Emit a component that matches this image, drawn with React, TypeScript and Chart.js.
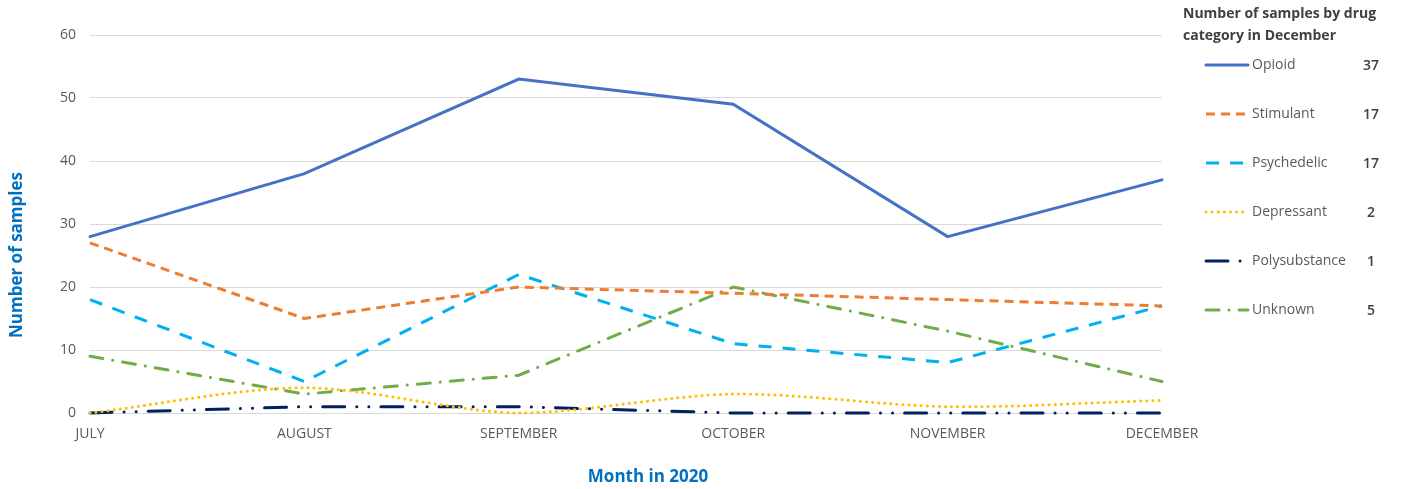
import React, { useEffect, useRef } from "react";
import { Chart, registerables } from "chart.js";
Chart.register(...registerables);

const months = ["JULY", "AUGUST", "SEPTEMBER", "OCTOBER", "NOVEMBER", "DECEMBER"];
const opioid = [28, 38, 53, 49, 28, 37];
const stimulant = [27, 15, 20, 19, 18, 17];
const psychedelic = [18, 5, 22, 11, 8, 17];
const depressant = [0, 4, 0, 3, 1, 2];
const polysubstance = [0, 1, 1, 0, 0, 0];
const unknown = [9, 3, 6, 20, 13, 5];
const seriesNames = ["Opioid", "Stimulant", "Psychedelic", "Depressant", "Polysubstance", "Unknown"];
const decemberCounts = ["37", "17", "17", "2", "1", "5"];
const yTitle = "Number of samples";
const xTitle = "Month in 2020";
const legendTitle = ["Number of samples by drug", "category in December"];

const colors = ["#4472C4", "#ED7D31", "#00B0F0", "#FFC000", "#002060", "#70AD47"];
const dashes: number[][] = [
  [],
  [9, 6],
  [13, 11],
  [0.1, 6],
  [22, 12, 0.1, 12, 0.1, 12],
  [13, 10, 0.1, 10],
];
const caps: CanvasLineCap[] = ["round", "butt", "butt", "round", "round", "round"];
const FONT = "'Open Sans', 'Noto Sans', sans-serif";

export default function App() {
  const ref = useRef<HTMLCanvasElement>(null);
  useEffect(() => {
    const values = [opioid, stimulant, psychedelic, depressant, polysubstance, unknown];
    const overlay = {
      id: "overlay",
      afterDraw(chart: any) {
        const ctx = chart.ctx as CanvasRenderingContext2D;
        const area = chart.chartArea;
        ctx.save();
        ctx.fillStyle = "#0070C0";
        ctx.font = `bold 17px ${FONT}`;
        ctx.textAlign = "center";
        ctx.textBaseline = "middle";
        ctx.fillText(xTitle, 648, 477);
        ctx.save();
        ctx.translate(17, (area.top + area.bottom) / 2 + 31);
        ctx.rotate(-Math.PI / 2);
        ctx.fillText(yTitle, 0, 0);
        ctx.restore();
        // legend
        ctx.textAlign = "left";
        ctx.fillStyle = "#404040";
        ctx.font = `bold 14px ${FONT}`;
        ctx.fillText(legendTitle[0], 1183, 14);
        ctx.fillText(legendTitle[1], 1183, 36);
        for (let i = 0; i < seriesNames.length; i++) {
          const y = 65 + i * 49;
          ctx.save();
          ctx.strokeStyle = colors[i];
          ctx.lineWidth = 3;
          ctx.lineCap = caps[i];
          ctx.setLineDash(dashes[i]);
          ctx.beginPath();
          ctx.moveTo(1206, y);
          ctx.lineTo(1248, y);
          ctx.stroke();
          ctx.restore();
          ctx.fillStyle = "#595959";
          ctx.font = `14px ${FONT}`;
          ctx.textAlign = "left";
          ctx.fillText(seriesNames[i], 1252, y);
          ctx.fillStyle = "#404040";
          ctx.font = `600 14px ${FONT}`;
          ctx.textAlign = "center";
          ctx.fillText(decemberCounts[i], 1371, y + 1);
        }
        ctx.restore();
      },
    };
    const chart = new Chart(ref.current!, {
      type: "line",
      data: {
        labels: months,
        datasets: values.map((v, i) => ({
          label: seriesNames[i],
          data: v,
          borderColor: colors[i],
          backgroundColor: colors[i],
          borderWidth: 3,
          borderDash: dashes[i],
          borderCapStyle: caps[i],
          pointRadius: 0,
          tension: i === 3 ? 0.3 : 0,
          clip: false as any,
          fill: false,
        })),
      },
      options: {
        animation: false,
        responsive: false,
        maintainAspectRatio: false,
        layout: { padding: { top: 35, right: 239, left: 0, bottom: 0 } },
        plugins: { legend: { display: false }, tooltip: { enabled: false } },
        scales: {
          x: {
            offset: false,
            grid: { display: false, drawTicks: false },
            border: { display: false },
            ticks: { color: "#595959", font: { family: FONT, size: 14 }, padding: 13, maxRotation: 0, autoSkip: false },
            afterFit: (s: any) => { s.height = 76; },
          },
          y: {
            min: 0,
            max: 60,
            ticks: { stepSize: 10, color: "#595959", font: { family: FONT, size: 14 }, padding: 14 },
            grid: { color: "#D9D9D9", lineWidth: 1, drawTicks: false },
            border: { display: false },
            afterFit: (s: any) => { s.width = 90; },
          },
        },
      },
      plugins: [overlay],
    });
    return () => chart.destroy();
  }, []);
  return (
    <div style={{ position: "absolute", left: 0, top: 0, width: 1401, height: 489, background: "#fff" }}>
      <canvas ref={ref} width={1401} height={489} style={{ width: 1401, height: 489 }} />
    </div>
  );
}
